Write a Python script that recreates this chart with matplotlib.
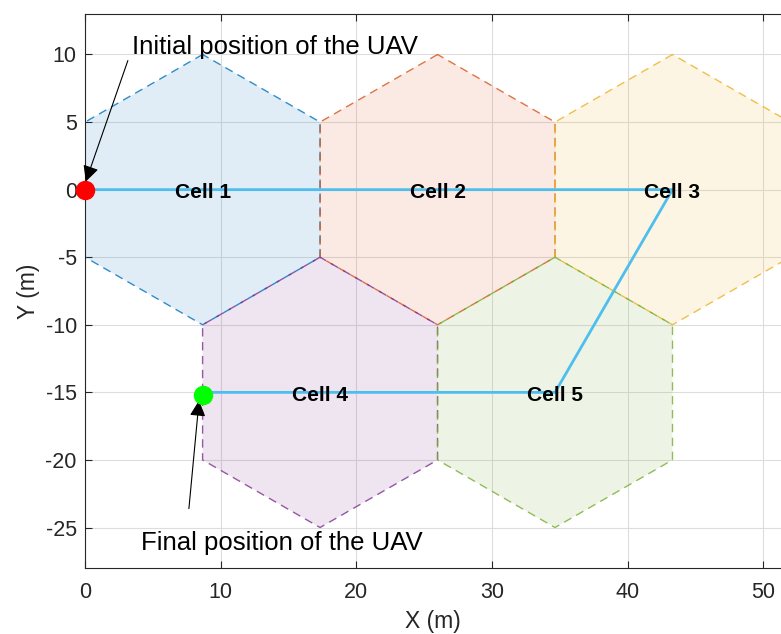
import numpy as np
import matplotlib.pyplot as plt

plt.rcParams['font.family'] = ['Liberation Sans', 'DejaVu Sans']
plt.rcParams['axes.unicode_minus'] = False

# hexagonal cells, radius 10 m, pointy top
R = 10
cell_names = ['Cell 1', 'Cell 2', 'Cell 3', 'Cell 4', 'Cell 5']
cell_x = [8.66, 25.98, 43.30, 17.32, 34.64]
cell_y = [0, 0, 0, -15, -15]
cell_colors = ['#0072BD', '#D95319', '#EDB120', '#7E2F8E', '#77AC30']

# UAV trajectory waypoints
path_x = [0, 43.30, 34.64, 8.66]
path_y = [0, 0, -15, -15]

fig = plt.figure(figsize=(7.81, 6.34), dpi=100)
ax = fig.add_axes([0.109, 0.104, 0.891, 0.874])

ang = np.deg2rad(90 + 60*np.arange(7))
for name, cx, cy, c in zip(cell_names, cell_x, cell_y, cell_colors):
    hx = cx + R*np.cos(ang)
    hy = cy + R*np.sin(ang)
    ax.fill(hx, hy, color=c, alpha=0.12, lw=0)
    ax.plot(hx, hy, '--', color=c, lw=1, alpha=0.8, dashes=(6, 4))

ax.plot(path_x, path_y, color='#4DBEEE', lw=2)
for name, cx, cy in zip(cell_names, cell_x, cell_y):
    ax.text(cx, cy - 0.2, name, fontsize=15, fontweight='bold', ha='center', va='center')

ax.plot(path_x[0], path_y[0], 'o', color='red', ms=13, clip_on=False, zorder=5)
ax.plot(path_x[-1], path_y[-1] - 0.2, 'o', color='#00FF00', ms=13, clip_on=False, zorder=5)

arrow = dict(arrowstyle='-|>', color='black', lw=0.8, mutation_scale=24, shrinkA=0, shrinkB=0)
ax.text(3.45, 10.55, 'Initial position of the UAV', fontsize=18.5, va='center', ha='left')
ax.annotate('', xy=(0.05, 0.6), xytext=(3.15, 9.55), arrowprops=arrow)
ax.text(4.1, -26.15, 'Final position of the UAV', fontsize=18.5, va='center', ha='left')
ax.annotate('', xy=(8.4, -15.6), xytext=(7.65, -23.6), arrowprops=arrow)

ax.set_xlim(0, 51.3)
ax.set_ylim(-28, 13)
ax.set_xticks(np.arange(0, 51, 10))
ax.set_yticks(np.arange(-25, 11, 5))
ax.grid(True, color='#dddddd', lw=0.8)
ax.set_axisbelow(True)
ax.tick_params(direction='in', top=True, labelsize=15.5, colors='#262626', length=5, pad=6)
ax.tick_params(axis='x', pad=10)
ax.spines['right'].set_visible(False)
for s in ['left', 'bottom', 'top']:
    ax.spines[s].set_color('#262626')
ax.set_xlabel('X (m)', fontsize=16.5, color='#262626', labelpad=5)
ax.set_ylabel('Y (m)', fontsize=16.5, color='#262626', labelpad=4)

fig.savefig('out.png', dpi=100)
